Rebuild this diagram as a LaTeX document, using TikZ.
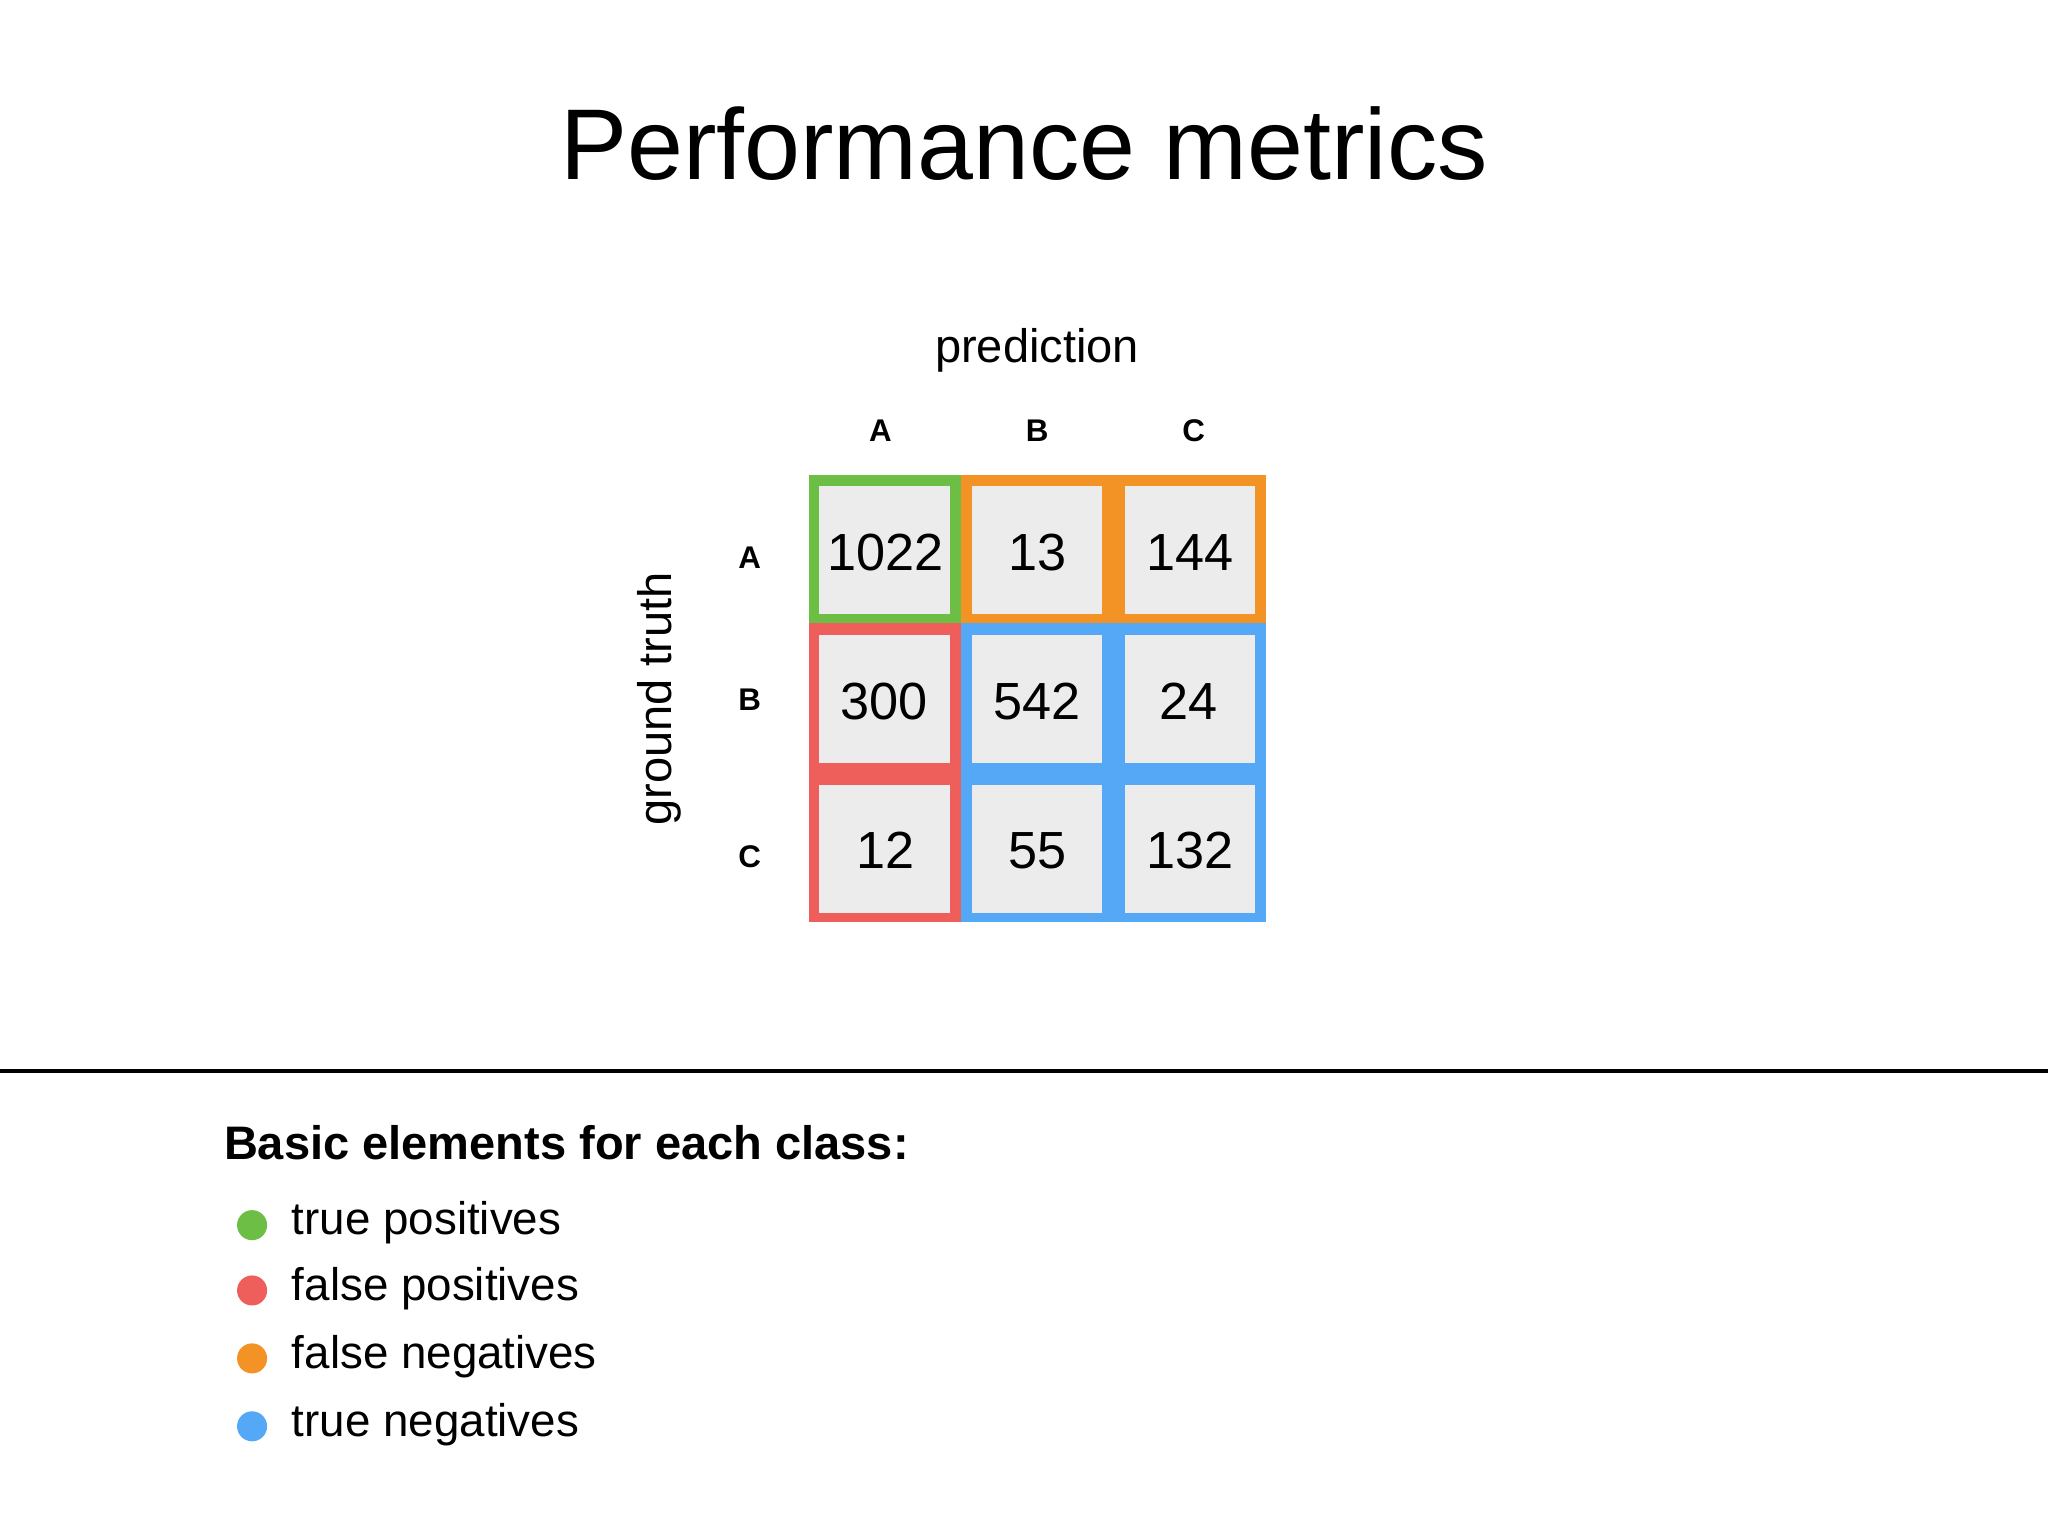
\documentclass[tikz,border=0pt]{standalone}
\usepackage{fontspec}
\setmainfont{Liberation Sans}
\definecolor{cg}{HTML}{6CBE45}
\definecolor{cr}{HTML}{EE5F5B}
\definecolor{co}{HTML}{F39325}
\definecolor{cb}{HTML}{55A8F5}
\definecolor{cell}{HTML}{ECECEC}
\begin{document}
\begin{tikzpicture}[x=1pt,y=-1pt,
  num/.style={font=\fontsize{40}{40}\selectfont},
  lab/.style={font=\bfseries\fontsize{24}{24}\selectfont},
  leg/.style={font=\fontsize{35}{35}\selectfont,anchor=west},
  dot/.style={circle,inner sep=0pt,minimum size=23pt}]
\useasboundingbox[fill=white] (0,0) rectangle (1568,1176);
\node[font=\fontsize{77}{77}\selectfont] (title) at (784,110) {Performance metrics};
\node[font=\fontsize{36}{36}\selectfont] (pred) at (794,268) {prediction};
\node[font=\fontsize{36}{36}\selectfont,rotate=90] (gt) at (505,535) {ground truth};
\node[lab] (ca) at (674,330) {A};
\node[lab] (cb2) at (794,330) {B};
\node[lab] (cc) at (914,330) {C};
\node[lab] (ra) at (574,427) {A};
\node[lab] (rb) at (574,536) {B};
\node[lab] (rc) at (574,656) {C};
\fill[cg] (619,364) rectangle (736,477);
\fill[co] (736,364) rectangle (969,477);
\fill[cr] (619,477) rectangle (736,706);
\fill[cb] (736,477) rectangle (969,706);
\foreach \cx in {677,794,911}{
  \foreach \cy in {421,535,650}{
    \fill[cell] (\cx-50,\cy-49) rectangle (\cx+50,\cy+49);
  }}
\node[num] (n11) at (678,423) {1022};
\node[num] (n12) at (794,423) {13};
\node[num] (n13) at (911,423) {144};
\node[num] (n21) at (677,537) {300};
\node[num] (n22) at (794,537) {542};
\node[num] (n23) at (910,537) {24};
\node[num] (n31) at (678,651) {12};
\node[num] (n32) at (794,651) {55};
\node[num] (n33) at (911,651) {132};
\draw[line width=2.5pt] (0,820) -- (1568,820);
\node[font=\bfseries\fontsize{36}{36}\selectfont,anchor=west] (basic) at (168,875) {Basic elements for each class:};
\node[dot,fill=cg] (d1) at (193,938) {};
\node[dot,fill=cr] (d2) at (193,988) {};
\node[dot,fill=co] (d3) at (193,1040) {};
\node[dot,fill=cb] (d4) at (193,1092) {};
\node[leg] (t1) at (220,936) {true positives};
\node[leg] (t2) at (220,987) {false positives};
\node[leg] (t3) at (220,1039) {false negatives};
\node[leg] (t4) at (220,1091) {true negatives};
\end{tikzpicture}
\end{document}
